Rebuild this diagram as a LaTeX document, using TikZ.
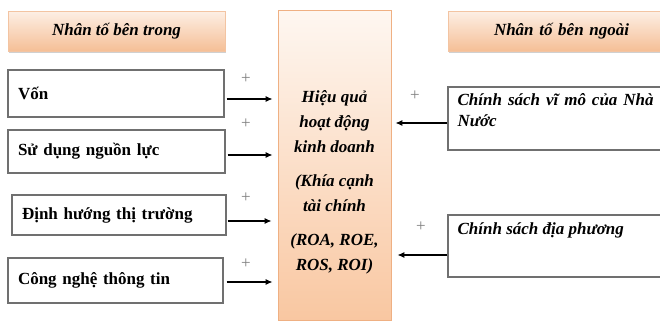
\documentclass[tikz,border=0pt]{standalone}
\usepackage{fontspec}
\setmainfont{Liberation Serif}
\usetikzlibrary{arrows.meta,shadows}
\definecolor{hdrtop}{HTML}{FDEFE5}
\definecolor{hdrbot}{HTML}{F5BF96}
\definecolor{hdrline}{HTML}{F3C4A2}
\definecolor{ctop}{HTML}{FEF7F1}
\definecolor{cbot}{HTML}{F9C7A1}
\definecolor{cline}{HTML}{EFB083}
\definecolor{boxline}{HTML}{707070}
\definecolor{plusgray}{HTML}{808080}
\begin{document}
\begin{tikzpicture}[x=1pt,y=-1pt,
  hdr/.style={rectangle, draw=hdrline, line width=0.6pt, top color=hdrtop, bottom color=hdrbot,
    minimum width=217pt, minimum height=40pt, inner sep=0pt,
    font=\fontsize{17}{20}\selectfont\bfseries\itshape,
    drop shadow={shadow xshift=0.5pt, shadow yshift=-2pt, opacity=0.3, fill=black!60}},
  lbox/.style={rectangle, draw=boxline, line width=1.1pt, fill=white, inner xsep=10pt, inner ysep=0pt,
    align=left, font=\fontsize{17}{20}\selectfont\bfseries,
    drop shadow={shadow xshift=0.6pt, shadow yshift=-0.8pt, opacity=0.35, fill=black!60}},
  rbox/.style={rectangle, draw=boxline, line width=1.1pt, fill=white, inner sep=0pt,
    drop shadow={shadow xshift=0.6pt, shadow yshift=-0.8pt, opacity=0.35, fill=black!60}},
  rtext/.style={anchor=north west, inner sep=0pt, font=\fontsize{17}{21}\selectfont\bfseries\itshape},
  arr/.style={-{Latex[length=7pt,width=6pt]}, line width=1.2pt, black},
  plus/.style={font=\fontsize{17}{17}\selectfont, text=plusgray, inner sep=0pt}
]
\clip (0,0) rectangle (660,325);
\fill[white] (0,0) rectangle (660,325);

% headers
\node[hdr] (hl) at (116.5,31) {Nhân tố bên trong};
\node[hdr, minimum width=224pt, text width=212pt, align=left, inner xsep=0pt] (hr) at (560,31) {\hspace*{40pt}Nhân tố bên ngoài};

% centre
\node[rectangle, draw=cline, line width=0.8pt, top color=ctop, bottom color=cbot,
      minimum width=113pt, minimum height=310pt, inner sep=0pt] (c) at (334.5,165) {};
\node[align=center, inner sep=0pt, font=\fontsize{17}{25}\selectfont\bfseries\itshape] (ct) at (334.5,182)
  {Hiệu quả\\hoạt động\\kinh doanh\\[9pt](Khía cạnh\\tài chính\\[9pt](ROA, ROE,\\ROS, ROI)};

% left boxes
\node[lbox, text width=196pt, minimum height=47pt] (v1) at (116,93.5) {Vốn};
\node[lbox, text width=197pt, minimum height=43pt] (v2) at (116.5,151.5) {Sử dụng nguồn lực};
\node[lbox, text width=194pt, minimum height=40pt] (v3) at (119,215) {Định hướng thị trường};
\node[lbox, text width=195pt, minimum height=45pt] (v4) at (115.5,280.5) {Công nghệ thông tin};

% right boxes
\node[rbox, minimum width=224pt, minimum height=63pt] (r1) at (560,118.5) {};
\node[rtext, text width=196pt, align=justify] (r1t) at ([xshift=10pt,yshift=-7pt]r1.north west) {Chính sách vĩ mô của Nhà\linebreak Nước};
\node[rbox, minimum width=224pt, minimum height=62pt] (r2) at (560,246) {};
\node[rtext, align=left] (r2t) at ([xshift=10pt,yshift=-8pt]r2.north west) {Chính sách địa phương};

% arrows
\draw[arr, shorten >=5pt] ([xshift=2pt,yshift=-5.5pt]v1.east) -- ([yshift=-5.5pt]v1.east -| c.west);
\draw[arr, shorten >=5pt] ([xshift=2pt,yshift=-3.5pt]v2.east) -- ([yshift=-3.5pt]v2.east -| c.west);
\draw[arr, shorten >=6pt] ([xshift=1pt,yshift=-6pt]v3.east) -- ([yshift=-6pt]v3.east -| c.west);
\draw[arr, shorten >=5pt] ([xshift=3pt,yshift=-1.5pt]v4.east) -- ([yshift=-1.5pt]v4.east -| c.west);
\draw[arr, shorten >=4pt] ([yshift=-4.5pt]r1.west) -- ([yshift=-4.5pt]r1.west -| c.east);
\draw[arr, shorten >=6pt] ([yshift=-9pt]r2.west) -- ([yshift=-9pt]r2.west -| c.east);

% plus signs
\node[plus] (p1) at (246,79) {+};
\node[plus] (p2) at (246,124) {+};
\node[plus] (p3) at (246,198) {+};
\node[plus] (p4) at (246,264) {+};
\node[plus] (p5) at (415,96) {+};
\node[plus] (p6) at (421,227) {+};
\end{tikzpicture}
\end{document}
